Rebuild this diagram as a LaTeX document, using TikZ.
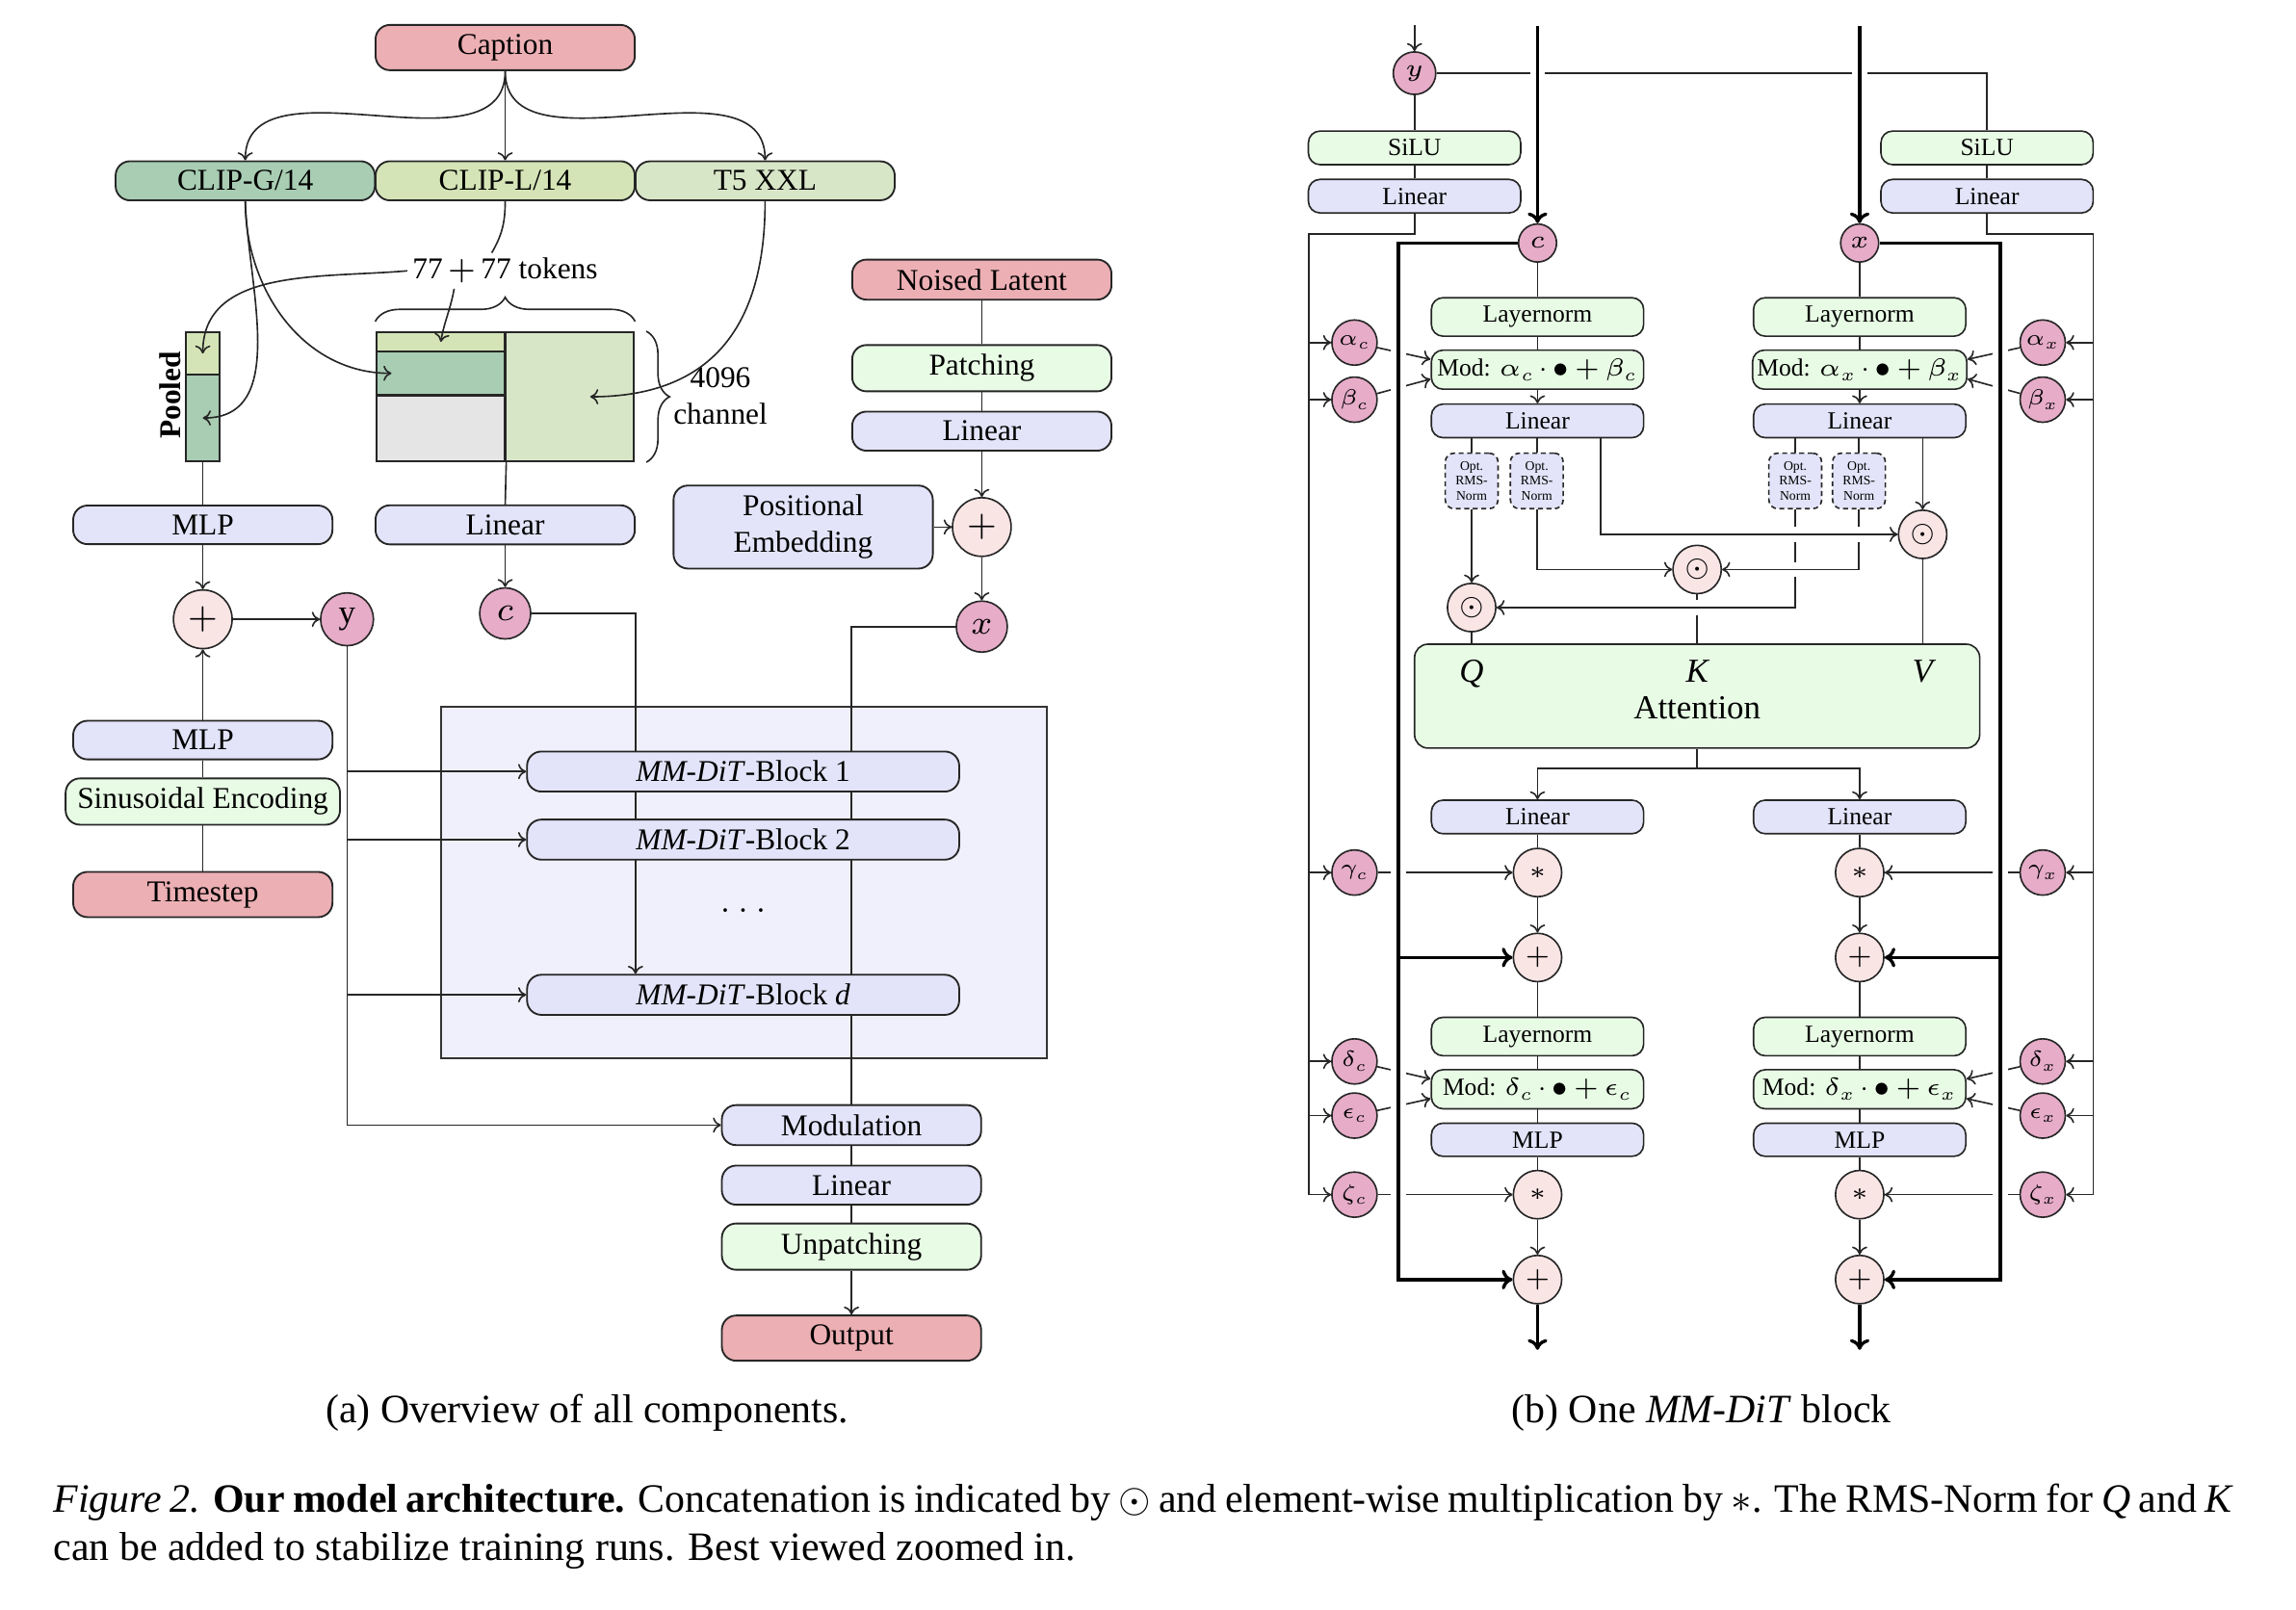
\RequirePackage{fix-cm}
\documentclass[tikz,border=0pt]{standalone}
\usepackage{fontspec}
\setmainfont{Liberation Serif}
\usetikzlibrary{arrows.meta,decorations.pathreplacing,calc}
\pgfdeclarelayer{back}
\pgfdeclarelayer{lines}
\pgfdeclarelayer{front}
\pgfsetlayers{back,lines,main,front}
\definecolor{cpink}{RGB}{236,175,180}
\definecolor{cclipg}{RGB}{168,205,179}
\definecolor{cclipl}{RGB}{212,228,182}
\definecolor{ct5}{RGB}{216,230,200}
\definecolor{clav}{RGB}{227,228,249}
\definecolor{cgreen}{RGB}{232,252,229}
\definecolor{cgrey}{RGB}{229,229,229}
\definecolor{cbox}{RGB}{240,240,252}
\definecolor{cop}{RGB}{250,229,229}
\definecolor{cvar}{RGB}{230,172,200}
\newcommand{\modexpr}[2]{Mod: $#1$\kern0.6pt$\cdot$\kern0.6pt$\bullet$\kern1.1pt$+$\kern1.1pt$#2$}
\begin{document}
\begin{tikzpicture}[x=0.327pt,y=-0.327pt,
 lbl/.style={inner sep=0.5pt},
 lbox/.style={draw=black!85, line width=0.4pt, rounded corners=3.2pt, minimum width=57.9pt, inner xsep=2.6pt, inner ysep=2.1pt, font=\fontsize{6.75}{8.2}\selectfont, align=center},
 rbox/.style={draw=black!85, line width=0.35pt, rounded corners=2.6pt, minimum width=47.4pt, inner xsep=1pt, inner ysep=1.9pt, font=\fontsize{5.5}{6.6}\selectfont},
 cellbox/.style={draw=black!85, line width=0.45pt, inner sep=0pt, rectangle},
 opnode/.style={circle, draw=black!85, line width=0.35pt, fill=cop, inner sep=0pt},
 varnode/.style={circle, draw=black!85, line width=0.35pt, fill=cvar, inner sep=0pt},
 lop/.style={opnode, minimum size=13.1pt, font=\fontsize{8}{9}\selectfont},
 lvar/.style={varnode, minimum size=11.4pt, font=\fontsize{7.5}{9}\selectfont},
 rop/.style={opnode, minimum size=10.8pt, font=\fontsize{5.5}{6}\selectfont},
 rpar/.style={varnode, minimum size=10.1pt, font=\fontsize{4.9}{5.5}\selectfont},
 optbox/.style={draw=black!85, dash pattern=on 1.1pt off 0.8pt, line width=0.35pt, rounded corners=2pt, fill=clav, minimum width=11.8pt, minimum height=12.4pt, inner sep=0pt, align=center, font=\fontsize{2.95}{3.25}\selectfont},
 conn/.style={line width=0.35pt, draw=black!85},
 arr/.style={conn, -{To[length=1.8pt,width=3.4pt]}},
 thickl/.style={line width=0.72pt, draw=black},
 tarr/.style={thickl, -{To[length=2.4pt,width=4.4pt]}},
 gapw/.style={preaction={draw=white, line width=3.4pt, -}},
 qkv/.style={anchor=base, inner sep=0pt, font=\fontsize{7.5}{9}\selectfont\itshape}
]
\useasboundingbox (0,0) rectangle (1568,1099.7);

% ================= LEFT PANEL =================
\begin{pgfonlayer}{back}
\node[draw=black!80, line width=0.4pt, fill=cbox, minimum width=135.4pt, minimum height=78.5pt, inner sep=0pt] (container) at (508,603) {};
\end{pgfonlayer}

\node[lbox, fill=cpink] (caption) at (345,32.5) {Caption};
\node[lbox, fill=cclipg] (clipg) at (167.5,123.5) {CLIP-G/14};
\node[lbox, fill=cclipl] (clipl) at (345,123.5) {CLIP-L/14};
\node[lbox, fill=ct5] (t5) at (522.5,123.5) {T5 XXL};
\node[lbl, inner sep=1pt, font=\fontsize{6.75}{8}\selectfont] (tokens) at (345,185) {77\kern1.1pt$+$\kern1.1pt77 tokens};

\node[cellbox, fill=cclipl, minimum width=28.8pt, minimum height=4.25pt] (mTop) at (301,233.5) {};
\node[cellbox, fill=cclipg, minimum width=28.8pt, minimum height=9.8pt] (mMid) at (301,255) {};
\node[cellbox, fill=cgrey, minimum width=28.8pt, minimum height=14.7pt] (mBot) at (301,292.5) {};
\node[cellbox, fill=ct5, minimum width=28.8pt, minimum height=28.8pt] (mRight) at (389,271) {};
\node[cellbox, fill=cclipl, minimum width=7.5pt, minimum height=9.5pt] (pT) at (138.5,241.5) {};
\node[cellbox, fill=cclipg, minimum width=7.5pt, minimum height=19.3pt] (pB) at (138.5,285.5) {};
\node[lbl, rotate=90, font=\bfseries\fontsize{6.75}{8}\selectfont] (pooled) at (116,270) {Pooled};
\node[lbl, align=center, font=\fontsize{6.75}{8.2}\selectfont] (chan) at (492,270.5) {4096\\channel};

\node[lbox, fill=clav] (mlp1) at (138.5,358.5) {MLP};
\node[lbox, fill=clav] (lin1) at (345,358.5) {Linear};
\node[lop] (plus1) at (138.5,423) {$+$};
\node[lvar, minimum size=11.8pt] (yL) at (237,423) {y};
\node[lvar] (cL) at (345,419) {$c$};
\node[lbox, fill=clav] (mlp2) at (138.5,505.5) {MLP};
\node[lbox, fill=cgreen] (sinus) at (138.5,547.5) {Sinusoidal Encoding};
\node[lbox, fill=cpink] (tstep) at (138.5,611) {Timestep};

\node[lbox, fill=cpink] (noised) at (670.5,191) {Noised Latent};
\node[lbox, fill=cgreen] (patch) at (670.5,251.5) {Patching};
\node[lbox, fill=clav] (lin2) at (670.5,294.5) {Linear};
\node[lbox, fill=clav, minimum height=18.3pt] (posemb) at (548.5,360) {Positional\\Embedding};
\node[lop] (plus2) at (670.5,360) {$+$};
\node[lvar] (xL) at (670.5,428) {$x$};

\node[lbox, fill=clav, minimum width=96.5pt] (blk1) at (507.5,527) {\textit{MM-DiT}-Block 1};
\node[lbox, fill=clav, minimum width=96.5pt] (blk2) at (507.5,573.5) {\textit{MM-DiT}-Block 2};
\node[lbl, font=\fontsize{6.75}{8}\selectfont] (dots) at (507.5,622) {$\dots$};
\node[lbox, fill=clav, minimum width=96.5pt] (blkd) at (507.5,679.5) {\textit{MM-DiT}-Block \textit{d}};

\node[lbox, fill=clav] (modu) at (581.5,768.5) {Modulation};
\node[lbox, fill=clav] (lin3) at (581.5,809.5) {Linear};
\node[lbox, fill=cgreen] (unpatch) at (581.5,851.5) {Unpatching};
\node[lbox, fill=cpink] (output) at (581.5,914) {Output};

\coordinate (cturn) at (434,419);
\coordinate (xturn) at (581.5,428);

% ================= RIGHT PANEL =================
\node[varnode, minimum size=9.5pt, font=\fontsize{5.5}{6}\selectfont] (yR) at (966,50) {$y$};
\coordinate (yin) at (966,17);
\node[rbox, fill=cgreen] (siluL) at (966,101) {SiLU};
\node[rbox, fill=clav] (linL) at (966,134) {Linear};
\node[rbox, fill=cgreen] (siluR) at (1357,101) {SiLU};
\node[rbox, fill=clav] (linR) at (1357,134) {Linear};
\coordinate (oL) at (894,160);
\coordinate (oR) at (1429.5,160);

\node[varnode, minimum size=8.5pt, font=\fontsize{5.5}{6}\selectfont] (cR) at (1050,166) {$c$};
\node[varnode, minimum size=8.5pt, font=\fontsize{5.5}{6}\selectfont] (xR) at (1270,166) {$x$};
\coordinate (cin) at (1050,18);
\coordinate (xin) at (1270,18);
\coordinate (iL) at (955,166);
\coordinate (iR) at (1366,166);

% c column
\node[rbox, fill=cgreen] (lnC1) at (1050,216.5) {Layernorm};
\node[rbox, fill=cgreen] (modC1) at (1050,252.5) {\modexpr{\alpha_c}{\beta_c}};
\node[rbox, fill=clav] (linC1) at (1050,287.5) {Linear};
\node[optbox] (o1) at (1005,328.5) {Opt.\\RMS-\\Norm};
\node[optbox] (o2) at (1049.5,328.5) {Opt.\\RMS-\\Norm};
% x column
\node[rbox, fill=cgreen] (lnX1) at (1270,216.5) {Layernorm};
\node[rbox, fill=cgreen] (modX1) at (1270,252.5) {\modexpr{\alpha_x}{\beta_x}};
\node[rbox, fill=clav] (linX1) at (1270,287.5) {Linear};
\node[optbox] (o3) at (1226,328.5) {Opt.\\RMS-\\Norm};
\node[optbox] (o4) at (1269.5,328.5) {Opt.\\RMS-\\Norm};

\node[rop] (dV) at (1313,365) {$\odot$};
\node[rop] (dK) at (1159,389) {$\odot$};
\node[rop] (dQ) at (1005,415) {$\odot$};

\node[draw=black!85, line width=0.35pt, rounded corners=3pt, fill=cgreen, minimum width=126.2pt, minimum height=23.2pt, inner sep=0pt] (att) at (1159,475.5) {};
\node[qkv] (qlab) at (1005,466) {Q};
\node[qkv] (klab) at (1159,466) {K};
\node[qkv] (vlab) at (1313,466) {V};
\node[anchor=base, inner sep=0pt, font=\fontsize{7.5}{9}\selectfont] (attlab) at (1159,491) {Attention};
\coordinate (split) at (1159,525);

\node[rbox, fill=clav] (linC2) at (1050,558) {Linear};
\node[rop] (starC1) at (1050,596) {$*$};
\node[rop] (plusC1) at (1050,654) {$+$};
\node[rbox, fill=cgreen] (lnC2) at (1050,708) {Layernorm};
\node[rbox, fill=cgreen] (modC2) at (1050,744) {\modexpr{\delta_c}{\epsilon_c}};
\node[rbox, fill=clav] (mlpC) at (1050,778.5) {MLP};
\node[rop] (starC2) at (1050,816) {$*$};
\node[rop] (plusC2) at (1050,874) {$+$};
\coordinate (outC) at (1050,922);

\node[rbox, fill=clav] (linX2) at (1270,558) {Linear};
\node[rop] (starX1) at (1270,596) {$*$};
\node[rop] (plusX1) at (1270,654) {$+$};
\node[rbox, fill=cgreen] (lnX2) at (1270,708) {Layernorm};
\node[rbox, fill=cgreen] (modX2) at (1270,744) {\modexpr{\delta_x}{\epsilon_x}};
\node[rbox, fill=clav] (mlpX) at (1270,778.5) {MLP};
\node[rop] (starX2) at (1270,816) {$*$};
\node[rop] (plusX2) at (1270,874) {$+$};
\coordinate (outX) at (1270,922);

\node[rpar] (ac) at (925,234) {$\alpha_c$};
\node[rpar] (bc) at (925,273) {$\beta_c$};
\node[rpar] (gc) at (925,596) {$\gamma_c$};
\node[rpar] (dc) at (925,725) {$\delta_c$};
\node[rpar] (ec) at (925,762) {$\epsilon_c$};
\node[rpar] (zc) at (925,816) {$\zeta_c$};
\node[rpar] (ax) at (1395,234) {$\alpha_x$};
\node[rpar] (bx) at (1395,273) {$\beta_x$};
\node[rpar] (gx) at (1395,596) {$\gamma_x$};
\node[rpar] (dx) at (1395,725) {$\delta_x$};
\node[rpar] (ex) at (1395,762) {$\epsilon_x$};
\node[rpar] (zx) at (1395,816) {$\zeta_x$};

% captions
\node[anchor=base, inner sep=0pt, font=\fontsize{9}{11}\selectfont] (capa) at (401,971.5) {(a) Overview of all components.};
\node[anchor=base, inner sep=0pt, font=\fontsize{9}{11}\selectfont] (capb) at (1162,971.5) {(b) One \textit{MM-DiT} block};
\node[anchor=base west, inner sep=0pt, text width=486.9pt, align=justify, font=\fontsize{9}{10.8}\selectfont] (figcap) at (36,1033) {\textit{Figure 2.} \textbf{Our model architecture.} Concatenation is indicated by $\odot$ and element-wise multiplication by $*$. The RMS-Norm for \textit{Q} and \textit{K}\linebreak can be added to stabilize training runs. Best viewed zoomed in.};

% ================= CONNECTORS =================
\begin{pgfonlayer}{lines}
% left panel
\draw[arr] (caption.south) to[out=-90,in=90] (clipg.north);
\draw[arr] (caption.south) -- (clipl.north);
\draw[arr] (caption.south) to[out=-90,in=90] (t5.north);
\draw[conn] (clipl.south) to[out=-90,in=60] ([xshift=-3pt]tokens.north);
\draw[conn] (pB.south) -- (mlp1.north);
\draw[conn] (mBot.south east) -- (lin1.north);
\draw[arr] (mlp1.south) -- (plus1.north);
\draw[arr] (plus1.east) -- (yL.west);
\draw[arr] (lin1.south) -- (cL.north);
\draw[arr] (mlp2.north) -- (plus1.south);
\draw[conn] (mlp2.south) -- (sinus.north);
\draw[conn] (sinus.south) -- (tstep.north);
\draw[conn] (noised.south) -- (patch.north);
\draw[conn] (patch.south) -- (lin2.north);
\draw[arr] (lin2.south) -- (plus2.north);
\draw[arr] (posemb.east) -- (plus2.west);
\draw[arr] (plus2.south) -- (xL.north);
\draw[arr] (cL.east) -- (cturn) -- (cturn |- blkd.north);
\draw[conn] (xL.west) -- (xturn) -- (modu.north);
\draw[arr] (yL.south) |- (modu.west);
\draw[arr] (yL.south |- blk1.west) -- (blk1.west);
\draw[arr] (yL.south |- blk2.west) -- (blk2.west);
\draw[arr] (yL.south |- blkd.west) -- (blkd.west);
\draw[conn] (modu.south) -- (lin3.north);
\draw[conn] (lin3.south) -- (unpatch.north);
\draw[arr] (unpatch.south) -- (output.north);

% right panel thin
\draw[arr] (yin) -- (yR.north);
\draw[conn] (yR.south) -- (siluL.north);
\draw[conn] (siluL.south) -- (linL.north);
\draw[conn] (yR.east) -| (siluR.north);
\draw[conn] (siluR.south) -- (linR.north);
\draw[arr] (linL.south) |- (oL) |- (zc.west);
\draw[arr] (linR.south) |- (oR) |- (zx.east);
\foreach \n in {ac,bc,gc,dc,ec} \draw[arr] (oL |- \n.west) -- (\n.west);
\foreach \n in {ax,bx,gx,dx,ex} \draw[arr] (oR |- \n.east) -- (\n.east);

\draw[conn] (cR.south) -- (lnC1.north);
\draw[conn] (lnC1.south) -- (modC1.north);
\draw[arr] (modC1.south) -- (linC1.north);
\draw[conn] (xR.south) -- (lnX1.north);
\draw[conn] (lnX1.south) -- (modX1.north);
\draw[arr] (modX1.south) -- (linX1.north);
\draw[arr] (ac) -- ([yshift=2.3pt]modC1.west);
\draw[arr] (bc) -- ([yshift=-2.1pt]modC1.west);
\draw[arr] (ax) -- ([yshift=2.3pt]modX1.east);
\draw[arr] (bx) -- ([yshift=-2.1pt]modX1.east);

\draw[conn] (o1 |- linC1.south) -- (o1.north);
\draw[conn] (o2 |- linC1.south) -- (o2.north);
\draw[conn] (o3 |- linX1.south) -- (o3.north);
\draw[conn] (o4 |- linX1.south) -- (o4.north);
\draw[arr] (o1.south) -- (dQ.north);
\draw[arr] (o2.south) |- (dK.west);
\draw[arr] (dV |- linX1.south) -- (dV.north);
\draw[conn] (dQ.south) -- (dQ |- att.north);
\draw[conn] (dV.south) -- (dV |- att.north);
\draw[conn] (dK.south) -- (dK |- att.north);
\draw[arr, gapw] (o3.south) |- (dQ.east);
\draw[arr, gapw] (o4.south) |- (dK.east);
\draw[arr, gapw] ([xshift=14.06pt]linC1.south) |- (dV.west);

\draw[conn] (att.south) -- (split);
\draw[arr] (split) -| (linC2.north);
\draw[arr] (split) -| (linX2.north);

\draw[conn] (linC2.south) -- (starC1.north);
\draw[arr] (starC1.south) -- (plusC1.north);
\draw[conn] (plusC1.south) -- (lnC2.north);
\draw[conn] (lnC2.south) -- (modC2.north);
\draw[conn] (modC2.south) -- (mlpC.north);
\draw[conn] (mlpC.south) -- (starC2.north);
\draw[arr] (starC2.south) -- (plusC2.north);
\draw[conn] (linX2.south) -- (starX1.north);
\draw[arr] (starX1.south) -- (plusX1.north);
\draw[conn] (plusX1.south) -- (lnX2.north);
\draw[conn] (lnX2.south) -- (modX2.north);
\draw[conn] (modX2.south) -- (mlpX.north);
\draw[conn] (mlpX.south) -- (starX2.north);
\draw[arr] (starX2.south) -- (plusX2.north);

\draw[arr] (gc) -- (starC1.west);
\draw[arr] (zc) -- (starC2.west);
\draw[arr] (gx) -- (starX1.east);
\draw[arr] (zx) -- (starX2.east);
\draw[arr] (dc) -- ([yshift=2.3pt]modC2.west);
\draw[arr] (ec) -- ([yshift=-2.1pt]modC2.west);
\draw[arr] (dx) -- ([yshift=2.3pt]modX2.east);
\draw[arr] (ex) -- ([yshift=-2.1pt]modX2.east);

% thick residual lines
\draw[tarr, gapw] (cin) -- (cR.north);
\draw[tarr, gapw] (xin) -- (xR.north);
\draw[tarr, gapw] (cR.west) -- (iL) |- (plusC2.west);
\draw[tarr] (iL |- plusC1.west) -- (plusC1.west);
\draw[tarr, gapw] (xR.east) -- (iR) |- (plusX2.east);
\draw[tarr] (iR |- plusX1.east) -- (plusX1.east);
\draw[tarr] (plusC2.south) -- (outC);
\draw[tarr] (plusX2.south) -- (outX);
\end{pgfonlayer}

\begin{pgfonlayer}{front}
\draw[arr] (tokens.west) to[out=185,in=90] (pT.center);
\draw[arr] ([xshift=-11.4pt]tokens.south) to[out=-100,in=80] (mTop.center);
\draw[arr] (clipg.south) to[out=-90,in=180] ([xshift=-11pt]mMid.center);
\draw[arr] (clipg.south) to[out=-88,in=0] (pB.center);
\draw[arr] (t5.south) to[out=-90,in=0,looseness=1.2] ([xshift=4.6pt]mRight.center);
\draw[conn, decorate, decoration={brace, amplitude=5.4pt}] ([yshift=2.2pt]mTop.north west) -- ([yshift=2.2pt]mRight.north east);
\draw[conn, decorate, decoration={brace, amplitude=5.2pt}] ([xshift=2.5pt]mRight.north east) -- ([xshift=2.5pt]mRight.south east);
\end{pgfonlayer}
\end{tikzpicture}
\end{document}
